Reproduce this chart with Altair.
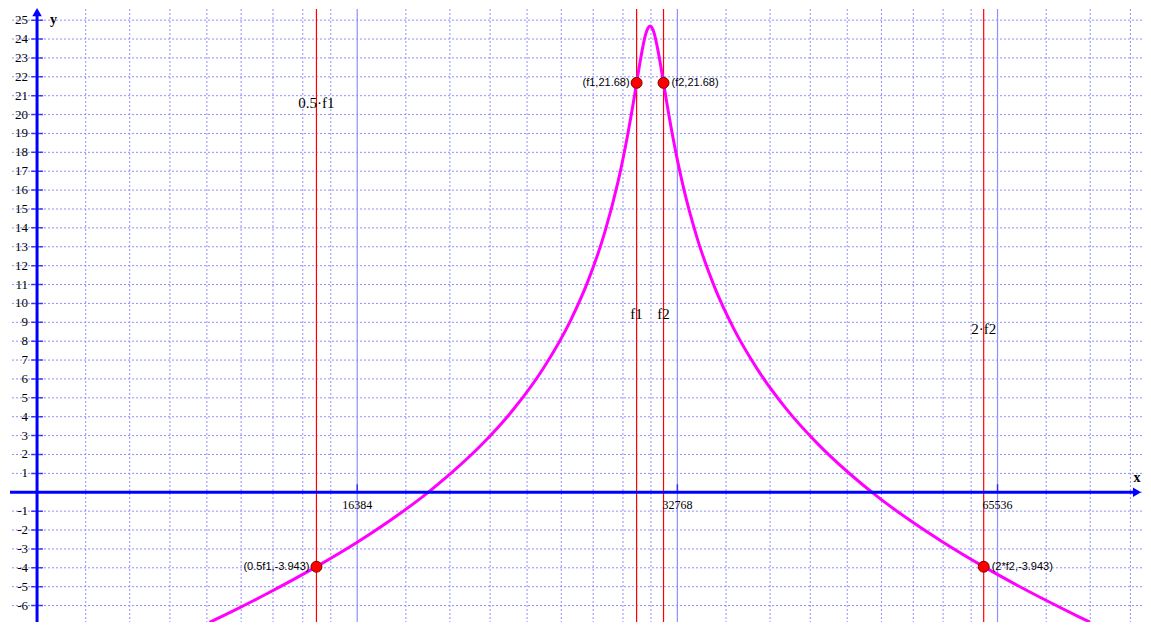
import altair as alt
import pandas as pd

# ---- data ----
freq = [11900, 12500, 13500, 15000, 16384, 18000, 19000, 20000, 21500, 23000,
        24500, 26000, 27000, 28000, 28800, 29000, 29400, 29700, 30000, 30200,
        30400, 30600, 30750, 30887, 31000, 31150, 31400, 31600, 31800, 32000,
        32400, 32800, 33200, 34200, 35500, 37000, 39000, 41500, 44500, 47500,
        50500, 54000, 58000, 63600, 68000, 73000, 78000, 80000]
gain_db = [-6.89, -6.31, -5.35, -3.94, -2.65, -1.10, -0.11, 0.93, 2.58, 4.42,
           6.54, 9.09, 11.18, 13.76, 16.38, 17.14, 18.81, 20.20, 21.68, 22.66,
           23.56, 24.27, 24.59, 24.69, 24.62, 24.34, 23.48, 22.61, 21.68, 20.75,
           19.01, 17.48, 16.14, 13.46, 10.89, 8.69, 6.48, 4.40, 2.51, 1.02,
           -0.22, -1.42, -2.58, -3.94, -4.85, -5.76, -6.57, -6.87]

marker_f = [15000, 30000, 31800, 63600]
marker_db = [-3.943, 21.68, 21.68, -3.943]
marker_text = ["(0.5f1,-3.943)", "(f1,21.68)", "(f2,21.68)", "(2*f2,-3.943)"]
marker_side = ["left", "left", "right", "right"]

line_label_f = [15000, 30000, 31800, 63600]
line_label_db = [20.6, 9.45, 9.45, 8.64]
line_label_text = ["0.5\u00b7f1", "f1", "f2", "2\u00b7f2"]

x_major = [16384, 32768, 65536]
x_major_labels = ["16384", "32768", "65536"]
x_minor = [9102.2, 10012.4, 10922.7, 11832.9, 12743.1, 13653.3, 14563.6, 15473.8,
           18204.4, 20024.9, 21845.3, 23665.8, 25486.2, 27306.7, 29127.1, 30947.6,
           36408.9, 40049.8, 43690.7, 47331.6, 50972.4, 54613.3, 58254.2, 61895.1,
           72817.8, 80099.6, 87381.3]
y_ticks = [-6, -5, -4, -3, -2, -1, 1, 2, 3, 4, 5, 6, 7, 8, 9, 10, 11, 12, 13, 14,
           15, 16, 17, 18, 19, 20, 21, 22, 23, 24, 25]
y_grid = [-6, -5, -4, -3, -2, -1, 0, 1, 2, 3, 4, 5, 6, 7, 8, 9, 10, 11, 12, 13, 14,
          15, 16, 17, 18, 19, 20, 21, 22, 23, 24, 25]

X_DOMAIN = [7726, 89600]
Y_DOMAIN = [-6.87, 25.59]
Y_AXIS_AT = 8192
X_AXIS_END = 88000
X_ARROW_AT = 88640
Y_AXIS_TOP = 25.3
Y_ARROW_AT = 25.42

GRID = "#8f8fff"
BLUE = "#0000ff"
RED = "#ff0000"

xs = alt.Scale(type="log", base=2, domain=X_DOMAIN, nice=False, zero=False)
ys = alt.Scale(domain=Y_DOMAIN, nice=False, zero=False)


def X(field):
    return alt.X(f"{field}:Q", scale=xs, axis=None)


def Y(field):
    return alt.Y(f"{field}:Q", scale=ys, axis=None)


curve_df = pd.DataFrame({"f": freq, "g": gain_db})
marker_df = pd.DataFrame({"f": marker_f, "g": marker_db, "t": marker_text, "side": marker_side})
ll_df = pd.DataFrame({"f": line_label_f, "g": line_label_db, "t": line_label_text})
minor_df = pd.DataFrame({"f": x_minor})
major_df = pd.DataFrame({"f": x_major, "t": x_major_labels, "g": [0] * len(x_major)})
ygrid_df = pd.DataFrame({"g": y_grid})
ytick_df = pd.DataFrame({"g": y_ticks, "t": [str(v) for v in y_ticks], "f": [Y_AXIS_AT] * len(y_ticks)})

minor_grid = alt.Chart(minor_df).mark_rule(color=GRID, strokeDash=[2, 2], strokeWidth=1).encode(x=X("f"))
major_grid = alt.Chart(major_df).mark_rule(color=GRID, strokeWidth=1.2).encode(x=X("f"))
h_grid = alt.Chart(ygrid_df).mark_rule(color=GRID, strokeDash=[2, 2], strokeWidth=1).encode(y=Y("g"))

red_lines = alt.Chart(marker_df).mark_rule(color=RED, strokeWidth=1.2).encode(x=X("f"))

x_axis = alt.Chart(pd.DataFrame({"f": [X_DOMAIN[0]], "f2": [X_AXIS_END], "g": [0]})).mark_rule(
    color=BLUE, strokeWidth=3).encode(x=X("f"), x2="f2:Q", y=Y("g"))
y_axis = alt.Chart(pd.DataFrame({"f": [Y_AXIS_AT], "g": [Y_DOMAIN[0]], "g2": [Y_AXIS_TOP]})).mark_rule(
    color=BLUE, strokeWidth=3).encode(x=X("f"), y=Y("g"), y2="g2:Q")

x_arrow = alt.Chart(pd.DataFrame({"f": [X_ARROW_AT], "g": [0]})).mark_point(
    shape="triangle-right", filled=True, color=BLUE, size=90, opacity=1).encode(x=X("f"), y=Y("g"))
y_arrow = alt.Chart(pd.DataFrame({"f": [Y_AXIS_AT], "g": [Y_ARROW_AT]})).mark_point(
    shape="triangle-up", filled=True, color=BLUE, size=90, opacity=1).encode(x=X("f"), y=Y("g"))

y_tick_marks = alt.Chart(ytick_df).mark_tick(orient="horizontal", size=12, thickness=1.5, color=BLUE).encode(
    x=X("f"), y=Y("g"))
y_tick_labels = alt.Chart(ytick_df).mark_text(
    align="right", baseline="middle", dx=-9, font="Liberation Serif", fontSize=13, color="black").encode(
    x=X("f"), y=Y("g"), text="t:N")

x_tick_marks = alt.Chart(major_df).mark_tick(orient="vertical", size=8, thickness=1.5, color=BLUE, yOffset=-4).encode(
    x=X("f"), y=Y("g"))
x_tick_labels = alt.Chart(major_df).mark_text(
    align="center", baseline="middle", dy=13, font="Liberation Serif", fontSize=12, color="black").encode(
    x=X("f"), y=Y("g"), text="t:N")

x_title = alt.Chart(pd.DataFrame({"f": [X_ARROW_AT], "g": [0], "t": ["x"]})).mark_text(
    align="center", baseline="middle", dy=-14, font="Liberation Serif", fontSize=14, fontWeight="bold",
    color="black").encode(x=X("f"), y=Y("g"), text="t:N")
y_title = alt.Chart(pd.DataFrame({"f": [Y_AXIS_AT], "g": [Y_DOMAIN[1]], "t": ["y"]})).mark_text(
    align="left", baseline="middle", dx=13, dy=11, font="Liberation Serif", fontSize=14, fontWeight="bold",
    color="black").encode(x=X("f"), y=Y("g"), text="t:N")

curve = alt.Chart(curve_df).mark_line(color="#ff00ff", strokeWidth=3, interpolate="monotone", clip=True).encode(
    x=X("f"), y=Y("g"))

points = alt.Chart(marker_df).mark_point(
    shape="circle", filled=True, color=RED, stroke="#7a0000", strokeWidth=1, size=120, opacity=1).encode(
    x=X("f"), y=Y("g"))

pt_left = alt.Chart(marker_df).transform_filter("datum.side == 'left'").mark_text(
    align="right", baseline="middle", dx=-7, font="Liberation Sans", fontSize=11, color="black").encode(
    x=X("f"), y=Y("g"), text="t:N")
pt_right = alt.Chart(marker_df).transform_filter("datum.side == 'right'").mark_text(
    align="left", baseline="middle", dx=8, font="Liberation Sans", fontSize=11, color="black").encode(
    x=X("f"), y=Y("g"), text="t:N")

line_labels = alt.Chart(ll_df).mark_text(
    align="center", baseline="middle", font="Liberation Serif", fontSize=15, color="black").encode(
    x=X("f"), y=Y("g"), text="t:N")

chart = alt.layer(
    minor_grid, major_grid, h_grid, red_lines, curve,
    x_axis, y_axis, x_arrow, y_arrow,
    y_tick_marks, y_tick_labels, x_tick_marks, x_tick_labels,
    x_title, y_title, points, pt_left, pt_right, line_labels,
).properties(
    width=1135, height=616,
    autosize=alt.AutoSizeParams(type="fit", contains="padding"),
    padding=0,
    background="white",
).configure_view(stroke=None)

chart.save("out.html", embed_options={"renderer": "svg", "actions": False})
